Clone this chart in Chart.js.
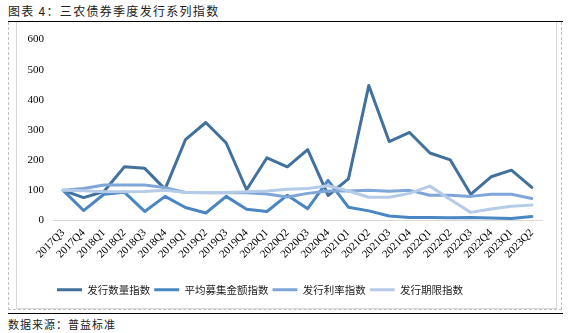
<!DOCTYPE html>
<html><head><meta charset="utf-8">
<script src="https://cdn.jsdelivr.net/npm/chart.js@4/dist/chart.umd.min.js"></script>
<style>
html,body{margin:0;padding:0;background:#fff;}
#wrap{position:relative;width:572px;height:333px;overflow:hidden;font-family:"Noto Sans CJK SC",sans-serif;}
#title{position:absolute;left:8px;top:3px;font-size:12px;letter-spacing:1.3px;color:#222;line-height:16px;white-space:nowrap;}
#topline{position:absolute;left:8px;top:21px;width:555px;height:0;border-top:1.5px solid #000;}
#outer{position:absolute;left:8px;top:22px;width:554px;height:288px;border:1px dashed #c0c0c0;border-top:none;box-sizing:border-box;}
#inner{position:absolute;left:16px;top:22px;width:541px;height:287px;border:1px solid #d9d9d9;border-top:none;box-sizing:border-box;}
#canvasBox{position:absolute;left:17px;top:24px;width:538px;height:283px;}
#bottomline{position:absolute;left:8px;top:313px;width:555px;height:0;border-top:1.5px solid #000;}
#source{position:absolute;left:8px;top:317px;font-size:11px;letter-spacing:1px;color:#222;line-height:15px;white-space:nowrap;}
</style>
</head>
<body>
<div id="wrap">
  <div id="title">图表 4：三农债券季度发行系列指数</div>
  <div id="topline"></div>
  <div id="outer"></div>
  <div id="inner"></div>
  <div id="canvasBox"><canvas id="c" width="538" height="283"></canvas></div>
  <div id="bottomline"></div>
  <div id="source">数据来源：普益标准</div>
</div>
<script>
const categories = ['2017Q3','2017Q4','2018Q1','2018Q2','2018Q3','2018Q4','2019Q1','2019Q2','2019Q3','2019Q4',
  '2020Q1','2020Q2','2020Q3','2020Q4','2021Q1','2021Q2','2021Q3','2021Q4','2022Q1','2022Q2','2022Q3','2022Q4','2023Q1','2023Q2'];
const seriesNames = ['发行数量指数','平均募集金额指数','发行利率指数','发行期限指数'];
const issueCountIndex = [100,76,96,178,173,104,268,325,257,102,208,178,235,83,138,448,262,292,224,201,87,145,167,110];
const avgAmountIndex  = [100,33,87,94,30,80,43,25,80,37,30,84,39,133,44,32,15,10,10,9,10,8,7,13];
const rateIndex       = [100,106,118,118,118,109,93,92,92,92,88,78,90,98,98,100,97,100,84,84,80,87,87,73];
const termIndex       = [100,99,95,95,96,100,93,93,93,95,98,104,106,115,98,77,77,90,114,70,27,38,47,51];
const yTickValues = [0,100,200,300,400,500,600];

const colors = ['#41719c','#4a86c3','#7ea6d8','#b6cbe8'];
const seriesData = [issueCountIndex, avgAmountIndex, rateIndex, termIndex];

const datasets = seriesNames.map((name, i) => ({
  label: name,
  data: seriesData[i],
  borderColor: colors[i],
  backgroundColor: colors[i],
  borderWidth: 3,
  pointRadius: 0,
  pointHoverRadius: 0,
  tension: 0,
  borderJoinStyle: 'round',
  borderCapStyle: 'round',
  fill: false,
  order: seriesNames.length - i
}));

new Chart(document.getElementById('c'), {
  type: 'line',
  data: { labels: categories, datasets },
  options: {
    responsive: false,
    animation: false,
    devicePixelRatio: 1,
    layout: { padding: { left: 0, right: 13, top: 13.7, bottom: 2 } },
    plugins: {
      tooltip: { enabled: false },
      legend: {
        position: 'bottom',
        fullSize: false,
        align: 'start',
        labels: {
          usePointStyle: true,
          pointStyle: 'line',
          pointStyleWidth: 25,
          padding: 4,
          color: '#222',
          font: { family: '"Noto Sans CJK SC", sans-serif', size: 10.5 },
          sort: (a, b) => a.datasetIndex - b.datasetIndex
        }
      }
    },
    scales: {
      x: {
        offset: true,
        grid: { display: false, drawTicks: false },
        border: { display: true, color: '#d9d9d9', width: 1 },
        ticks: {
          autoSkip: false, minRotation: 45, maxRotation: 45, padding: 6,
          color: '#000',
          font: { family: '"Liberation Serif", "Times New Roman", serif', size: 11 }
        },
        afterFit: s => { s.height = 60; }
      },
      y: {
        min: 0, max: 600,
        afterBuildTicks: s => { s.ticks = yTickValues.map(v => ({ value: v })); },
        grid: { display: false, drawTicks: false },
        border: { display: false },
        ticks: {
          padding: 9,
          color: '#000',
          font: { family: '"Liberation Serif", "Times New Roman", serif', size: 11 }
        },
        afterFit: s => { s.width = 36; }
      }
    }
  }
});
</script>
</body></html>
